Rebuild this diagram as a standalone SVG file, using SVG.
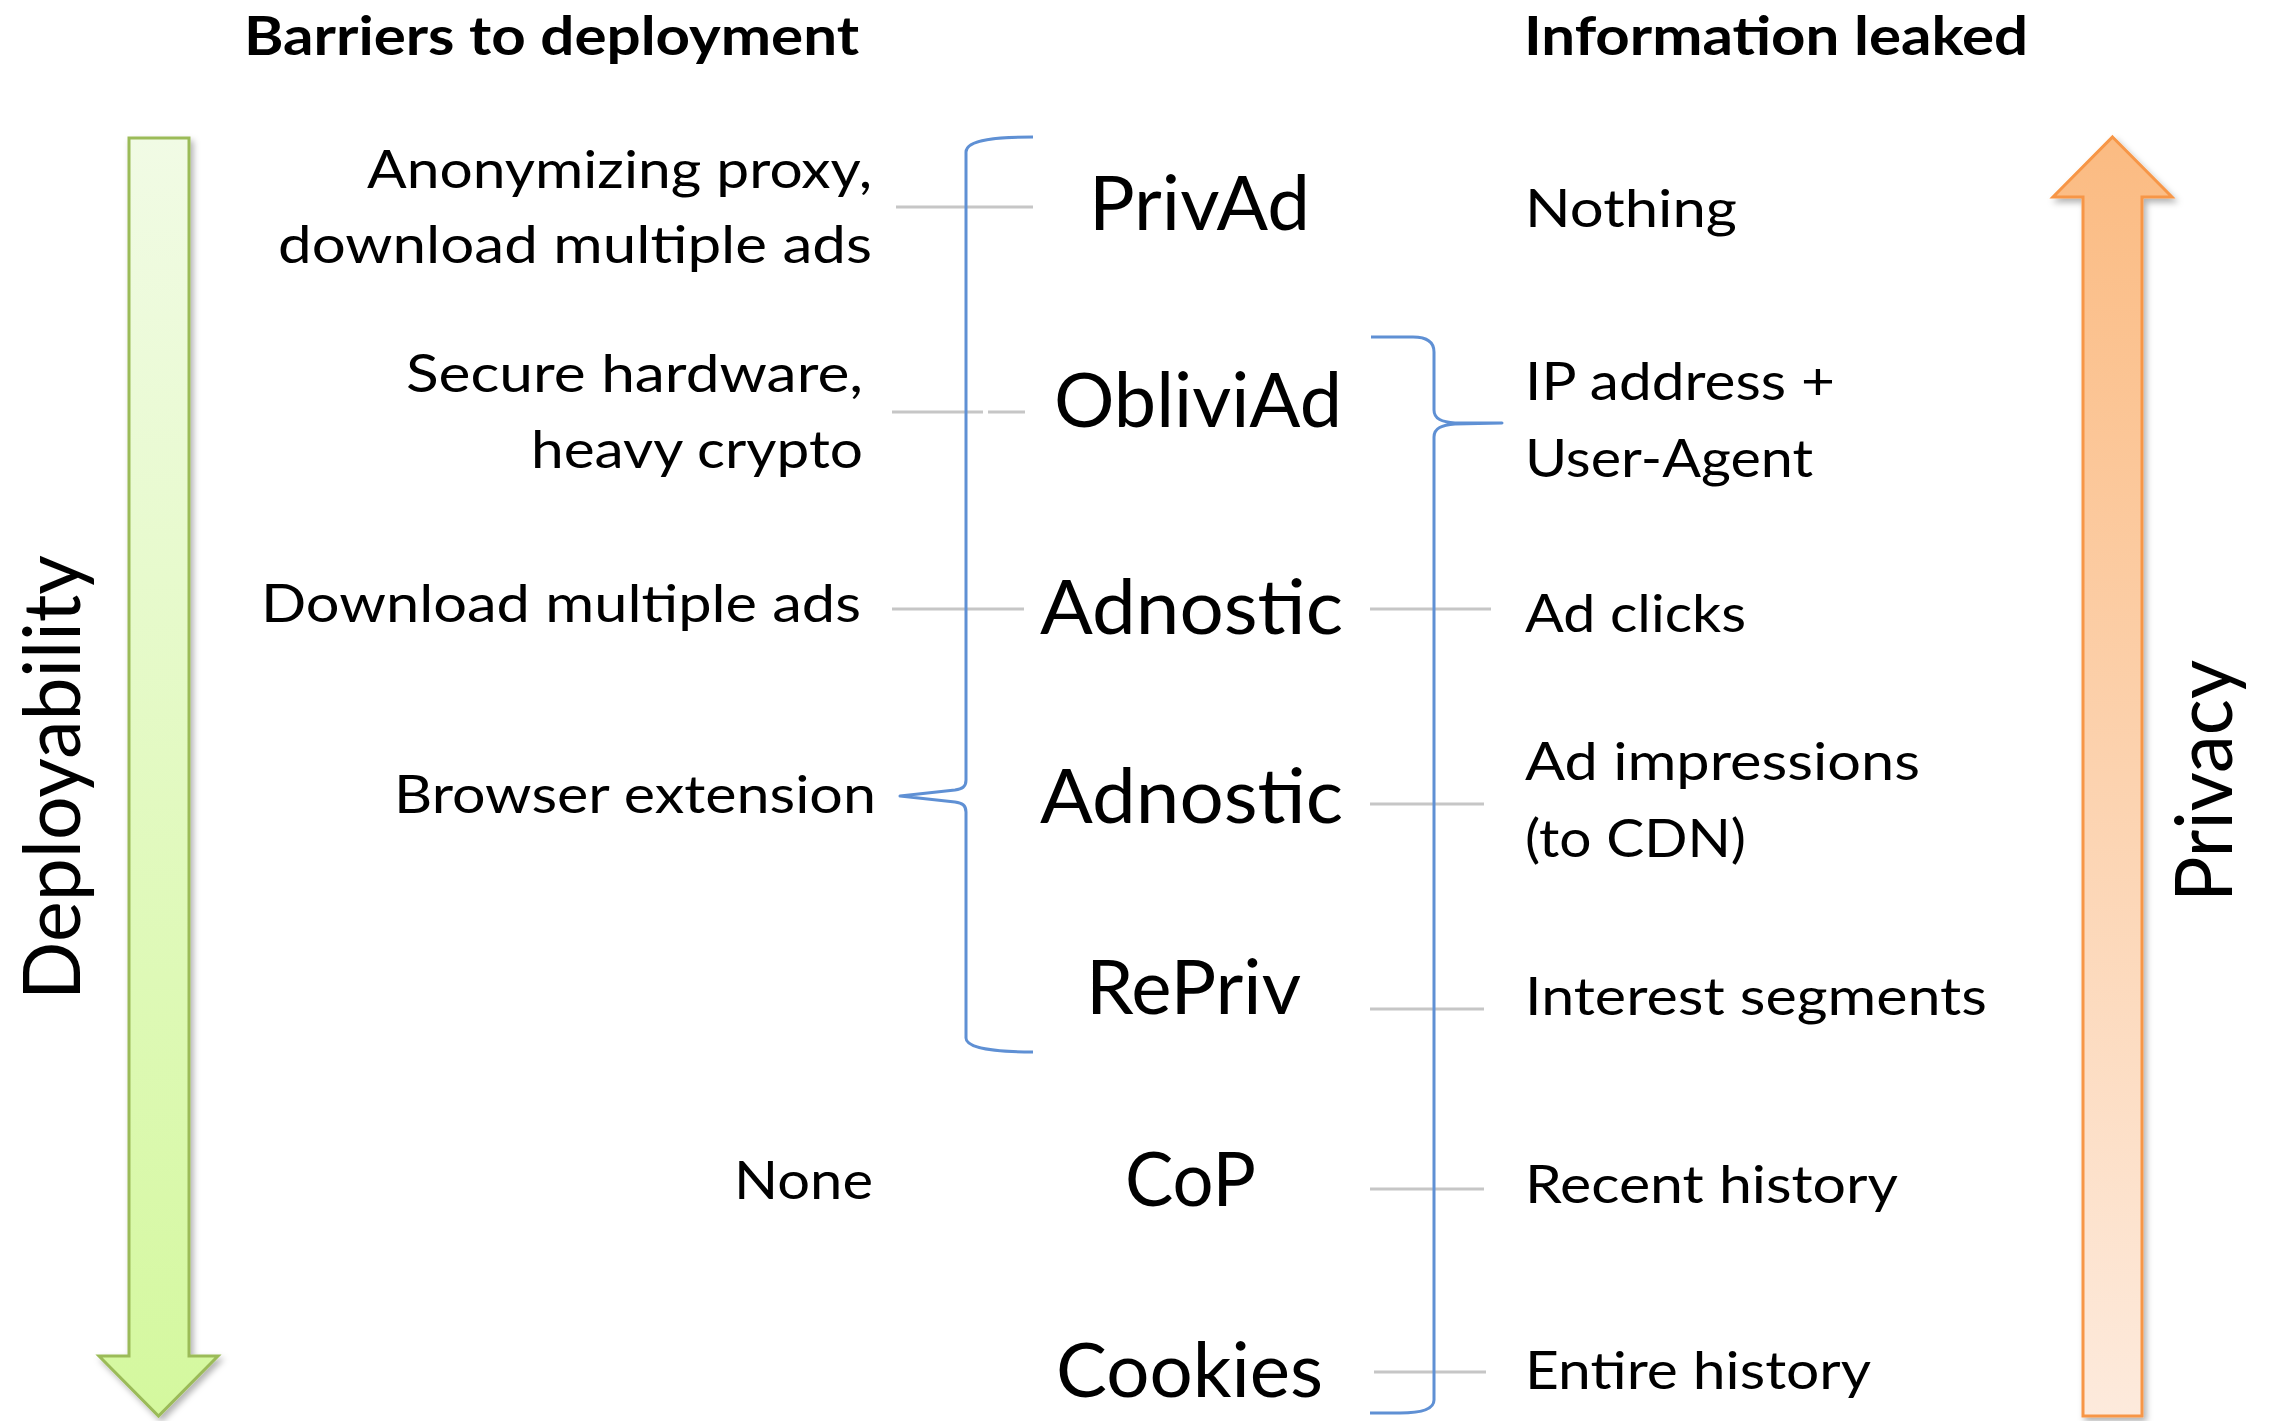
<svg xmlns="http://www.w3.org/2000/svg" width="2274" height="1421" viewBox="0 0 2274 1421">
<style>
text{font-family:Lato,"Open Sans","Liberation Sans",sans-serif;fill:#000}
.hdr{font-size:54px;font-weight:bold}
.lbl{font-size:53px}
.lft{text-anchor:end}
.big{font-size:76px}
.rot{font-size:80px}
.grey{stroke:#c6c6c6;stroke-width:3;fill:none}
.brace{stroke:#5f90d4;stroke-width:3;fill:none;stroke-linejoin:round}
</style>
<defs>
<linearGradient id="gGreen" x1="0" y1="0" x2="0" y2="1">
<stop offset="0" stop-color="#f1fbe5"/>
<stop offset="1" stop-color="#d4f89e"/>
</linearGradient>
<linearGradient id="gOrange" x1="0" y1="0" x2="0" y2="1">
<stop offset="0" stop-color="#fbbb82"/>
<stop offset="1" stop-color="#fdeadc"/>
</linearGradient>
<filter id="sh" x="-20%" y="-5%" width="150%" height="110%">
<feDropShadow dx="3" dy="4" stdDeviation="3" flood-color="#000" flood-opacity="0.3"/>
</filter>
</defs>
<rect width="2274" height="1421" fill="#fff"/>

<g id="headers">
<text class="hdr" x="244" y="55" textLength="615" lengthAdjust="spacingAndGlyphs">Barriers to deployment</text>
<text class="hdr" x="1524" y="55" textLength="504" lengthAdjust="spacingAndGlyphs">Information leaked</text>
</g>

<g id="arrow-deployability">
<polygon points="129,138 189,138 189,1356 218,1356 158.5,1416 99,1356 129,1356" fill="url(#gGreen)" stroke="#9bbb59" stroke-width="3" filter="url(#sh)"/>
<text class="rot" transform="translate(80,1000) rotate(-90)" x="0" y="0" textLength="445" lengthAdjust="spacingAndGlyphs">Deployability</text>
</g>

<g id="arrow-privacy">
<polygon points="2112.5,137 2172,197 2142,197 2142,1416 2083,1416 2083,197 2053,197" fill="url(#gOrange)" stroke="#f79646" stroke-width="3" filter="url(#sh)"/>
<text class="rot" transform="translate(2232,902) rotate(-90)" x="0" y="0" textLength="242" lengthAdjust="spacingAndGlyphs">Privacy</text>
</g>

<g id="connectors">
<line class="grey" x1="896" y1="207" x2="1033" y2="207"/>
<line class="grey" x1="892" y1="412" x2="983" y2="412"/>
<line class="grey" x1="988" y1="412" x2="1025" y2="412"/>
<line class="grey" x1="892" y1="609" x2="1024" y2="609"/>
<line class="grey" x1="1370" y1="609" x2="1491" y2="609"/>
<line class="grey" x1="1370" y1="804" x2="1484" y2="804"/>
<line class="grey" x1="1370" y1="1009" x2="1484" y2="1009"/>
<line class="grey" x1="1370" y1="1189" x2="1484" y2="1189"/>
<line class="grey" x1="1374" y1="1372" x2="1486" y2="1372"/>
<path class="brace" d="M1033,137 C1000,137 966,139 966,152 L966,780 C966,787 962,789 955,790 L900,796 L955,802 C962,803 966,805 966,812 L966,1038 C966,1048 995,1052 1033,1052"/>
<path class="brace" d="M1371,337 L1413,337 C1426,337 1434,341 1434,352 L1434,410 C1434,419 1442,422 1455,423 L1502,423 L1455,424 C1442,425 1434,428 1434,437 L1434,1400 C1434,1410 1420,1413 1400,1413 L1370,1413"/>
</g>

<g id="barriers">
<g id="b-privad"><text class="lbl lft" x="872" y="188" textLength="505" lengthAdjust="spacingAndGlyphs">Anonymizing proxy,</text>
<text class="lbl lft" x="872" y="263" textLength="594" lengthAdjust="spacingAndGlyphs">download multiple ads</text></g>
<g id="b-obliviad"><text class="lbl lft" x="863" y="392" textLength="457" lengthAdjust="spacingAndGlyphs">Secure hardware,</text>
<text class="lbl lft" x="863" y="468" textLength="332" lengthAdjust="spacingAndGlyphs">heavy crypto</text></g>
<g id="b-adnostic1"><text class="lbl lft" x="861" y="622" textLength="600" lengthAdjust="spacingAndGlyphs">Download multiple ads</text></g>
<g id="b-ext"><text class="lbl lft" x="876" y="813" textLength="482" lengthAdjust="spacingAndGlyphs">Browser extension</text></g>
<g id="b-none"><text class="lbl lft" x="873" y="1199" textLength="139" lengthAdjust="spacingAndGlyphs">None</text></g>
</g>

<g id="systems">
<g id="n-privad"><text class="big" x="1089" y="230" textLength="221" lengthAdjust="spacingAndGlyphs">PrivAd</text></g>
<g id="n-obliviad"><text class="big" x="1054" y="427" textLength="288" lengthAdjust="spacingAndGlyphs">ObliviAd</text></g>
<g id="n-adnostic1"><text class="big" x="1040" y="634" textLength="303" lengthAdjust="spacingAndGlyphs">Adnostic</text></g>
<g id="n-adnostic2"><text class="big" x="1040" y="823" textLength="303" lengthAdjust="spacingAndGlyphs">Adnostic</text></g>
<g id="n-repriv"><text class="big" x="1086" y="1014" textLength="215" lengthAdjust="spacingAndGlyphs">RePriv</text></g>
<g id="n-cop"><text class="big" x="1125" y="1206" textLength="131" lengthAdjust="spacingAndGlyphs">CoP</text></g>
<g id="n-cookies"><text class="big" x="1056" y="1397" textLength="267" lengthAdjust="spacingAndGlyphs">Cookies</text></g>
</g>

<g id="leaks">
<g id="l-nothing"><text class="lbl" x="1525" y="227" textLength="212" lengthAdjust="spacingAndGlyphs">Nothing</text></g>
<g id="l-ip"><text class="lbl" x="1525" y="400" textLength="310" lengthAdjust="spacingAndGlyphs">IP address +</text>
<text class="lbl" x="1525" y="477" textLength="288" lengthAdjust="spacingAndGlyphs">User-Agent</text></g>
<g id="l-clicks"><text class="lbl" x="1525" y="632" textLength="221" lengthAdjust="spacingAndGlyphs">Ad clicks</text></g>
<g id="l-impr"><text class="lbl" x="1525" y="780" textLength="395" lengthAdjust="spacingAndGlyphs">Ad impressions</text>
<text class="lbl" x="1525" y="857" textLength="221" lengthAdjust="spacingAndGlyphs">(to CDN)</text></g>
<g id="l-interest"><text class="lbl" x="1525" y="1015" textLength="462" lengthAdjust="spacingAndGlyphs">Interest segments</text></g>
<g id="l-recent"><text class="lbl" x="1525" y="1203" textLength="373" lengthAdjust="spacingAndGlyphs">Recent history</text></g>
<g id="l-entire"><text class="lbl" x="1525" y="1389" textLength="346" lengthAdjust="spacingAndGlyphs">Entire history</text></g>
</g>
</svg>
